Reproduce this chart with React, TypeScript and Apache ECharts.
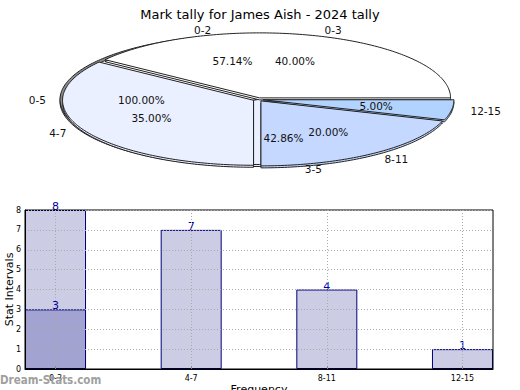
import React, { useEffect, useRef } from 'react';
import * as echarts from 'echarts';

const chartTitle = 'Mark tally for James Aish - 2024 tally';

// Bar chart data
const barCategories = ['0-3', '4-7', '8-11', '12-15'];
const barValues = [8, 7, 4, 1];
const overlayValues = [3, null, null, null];
const yAxisName = 'Stat Intervals';
const xAxisName = 'Frequency';

// Pie data (three overlapping pies)
const pieALabels = ['0-3', '4-7', '8-11', '12-15'];
const pieAValues = [8, 7, 4, 1];
const pieAColors = ['#FFFFFF', '#EAF0FF', '#C5D8FF', '#B3D3FF'];
const pieBLabels = ['0-2', '3-5'];
const pieBValues = [4, 3];
const pieBColors = ['#FFFFFF', '#EAF0FF'];
const pieCLabels = ['0-5'];
const pieCValues = [1];
const pieCColors = ['#8A8A8A'];

const FONT = 'DejaVu Sans';
const CX = 258;
const CY = 99.5;
const RX = 191;
const RY = 65;

function arcPoints(cx: number, cy: number, a0: number, a1: number, dy: number) {
  const pts: number[][] = [[cx, cy + dy]];
  const steps = Math.max(2, Math.ceil(a1 - a0));
  for (let k = 0; k <= steps; k++) {
    const a = ((a0 + ((a1 - a0) * k) / steps) * Math.PI) / 180;
    pts.push([cx + RX * Math.cos(a), cy - RY * Math.sin(a) + dy]);
  }
  return pts;
}

function sliceGeom(values: number[], i: number, explode: number) {
  const total = values.reduce((s, v) => s + v, 0);
  const before = values.slice(0, i).reduce((s, v) => s + v, 0);
  const start = (before / total) * 360;
  const end = start + (values[i] / total) * 360;
  const mid = (((start + end) / 2) * Math.PI) / 180;
  const cx = CX + explode * Math.cos(mid);
  const cy = CY - explode * Math.sin(mid) * (RY / RX);
  return { start, end, mid, cx, cy, pct: ((values[i] / total) * 100).toFixed(2) + '%' };
}

function pieShapes(values: number[], colors: string[], explode: number, depth: number, z: number) {
  return {
    type: 'custom',
    coordinateSystem: 'none',
    z,
    silent: true,
    data: values,
    renderItem: (params: any) => {
      const i = params.dataIndex;
      const g = sliceGeom(values, i, explode);
      return {
        type: 'group',
        children: [
          {
            type: 'polygon',
            z2: 0,
            shape: { points: arcPoints(g.cx, g.cy, g.start, g.end, depth) },
            style: { fill: colors[i], stroke: '#222', lineWidth: 1 },
          },
          {
            type: 'polygon',
            z2: 10,
            shape: { points: arcPoints(g.cx, g.cy, g.start, g.end, 0) },
            style: { fill: colors[i], stroke: '#222', lineWidth: 1 },
          },
        ],
      };
    },
  };
}

function pieLabels(labels: string[], values: number[], explode: number) {
  return {
    type: 'custom',
    coordinateSystem: 'none',
    z: 20,
    silent: true,
    data: values,
    renderItem: (params: any) => {
      const i = params.dataIndex;
      const g = sliceGeom(values, i, explode);
      const c = Math.cos(g.mid);
      const s = Math.sin(g.mid);
      return {
        type: 'group',
        children: [
          {
            type: 'text',
            x: g.cx + 0.6 * RX * c,
            y: g.cy - 0.6 * RY * s,
            style: {
              text: g.pct,
              align: 'center',
              verticalAlign: 'middle',
              fontSize: 10.5,
              fontFamily: FONT,
              fill: '#111',
            },
          },
          {
            type: 'text',
            x: g.cx + 1.1 * RX * c,
            y: g.cy - 1.1 * RY * s,
            style: {
              text: labels[i],
              align: c >= 0 ? 'left' : 'right',
              verticalAlign: 'middle',
              fontSize: 10.5,
              fontFamily: FONT,
              fill: '#111',
            },
          },
        ],
      };
    },
  };
}

export default function App() {
  const ref = useRef<HTMLDivElement>(null);
  useEffect(() => {
    if (!ref.current) return;
    const chart = echarts.init(ref.current, undefined, { renderer: 'svg' });
    const catIdx = barCategories.map((_, i) => i);
    const X_PAD = 0.225;
    const barLabel = {
      show: true,
      position: 'top',
      distance: -2,
      color: '#0000A0',
      fontSize: 11,
      fontFamily: FONT,
      formatter: (p: any) => String(p.value[1]),
    };
    chart.setOption({
      animation: false,
      backgroundColor: '#fff',
      title: {
        text: chartTitle,
        left: 'center',
        top: 3,
        textStyle: { fontSize: 13, fontWeight: 'normal', fontFamily: FONT, color: '#000' },
      },
      grid: {
        left: 25,
        right: 27,
        top: 210,
        bottom: 21,
        show: true,
        borderColor: '#000',
        borderWidth: 1,
        backgroundColor: 'transparent',
        containLabel: false,
        outerBoundsMode: 'none',
      },
      xAxis: {
        type: 'value',
        min: -X_PAD,
        max: barCategories.length - 1 + X_PAD,
        name: xAxisName,
        nameLocation: 'middle',
        nameGap: 15,
        nameMoveOverlap: false,
        nameTextStyle: { fontSize: 11, fontFamily: FONT, color: '#000', verticalAlign: 'top' },
        axisLine: { show: true, onZero: false, lineStyle: { color: '#000' } },
        axisTick: { show: true, customValues: catIdx, inside: true, length: 3, lineStyle: { color: '#888' } },
        axisLabel: {
          customValues: catIdx,
          formatter: (v: number) => barCategories[Math.round(v)] ?? '',
          fontSize: 8,
          fontFamily: FONT,
          color: '#000',
          margin: 5,
        },
        splitLine: { show: true, lineStyle: { color: '#aaa', type: [1, 2] } },
      },
      yAxis: {
        type: 'value',
        min: 0,
        max: 8,
        interval: 1,
        name: yAxisName,
        nameLocation: 'middle',
        nameGap: 10,
        nameRotate: 90,
        nameMoveOverlap: false,
        nameTextStyle: { fontSize: 11, fontFamily: FONT, color: '#000', verticalAlign: 'bottom' },
        axisLine: { show: true, onZero: false, lineStyle: { color: '#000' } },
        axisTick: { show: false },
        axisLabel: { fontSize: 8, fontFamily: FONT, color: '#000', margin: 4 },
        splitLine: { show: true, lineStyle: { color: '#aaa', type: [1, 2] } },
      },
      graphic: [
        {
          type: 'text',
          left: 0,
          top: 374,
          z: 100,
          style: {
            text: 'Dream-Stats.com',
            fontSize: 11.5,
            fontWeight: 'bold',
            fontFamily: '"DejaVu Sans Condensed", "DejaVu Sans"',
            fill: '#a0a0a0',
          },
        },
      ],
      series: [
        pieShapes(pieCValues, pieCColors, 7, 2, 1),
        pieShapes(pieBValues, pieBColors, 0, 2, 2),
        pieShapes(pieAValues, pieAColors, 5, 2, 3),
        pieLabels(pieCLabels, pieCValues, 2),
        pieLabels(pieBLabels, pieBValues, 0),
        pieLabels(pieALabels, pieAValues, 5),
        {
          type: 'bar',
          z: -1,
          barWidth: 61,
          barGap: '-100%',
          data: barValues.map((v, i) => [i, v]),
          itemStyle: { color: '#CCCCE4', borderColor: '#000080', borderWidth: 1 },
          label: barLabel,
        },
        {
          type: 'bar',
          z: -1,
          barWidth: 61,
          barGap: '-100%',
          data: overlayValues.map((v, i) => (v == null ? null : [i, v])).filter((d) => d !== null),
          itemStyle: { color: '#A3A3D1', borderColor: '#000080', borderWidth: 1 },
          label: barLabel,
        },
      ],
    });
    return () => chart.dispose();
  }, []);
  return (
    <div
      ref={ref}
      style={{ position: 'absolute', left: 0, top: 0, width: 520, height: 390 }}
    />
  );
}
